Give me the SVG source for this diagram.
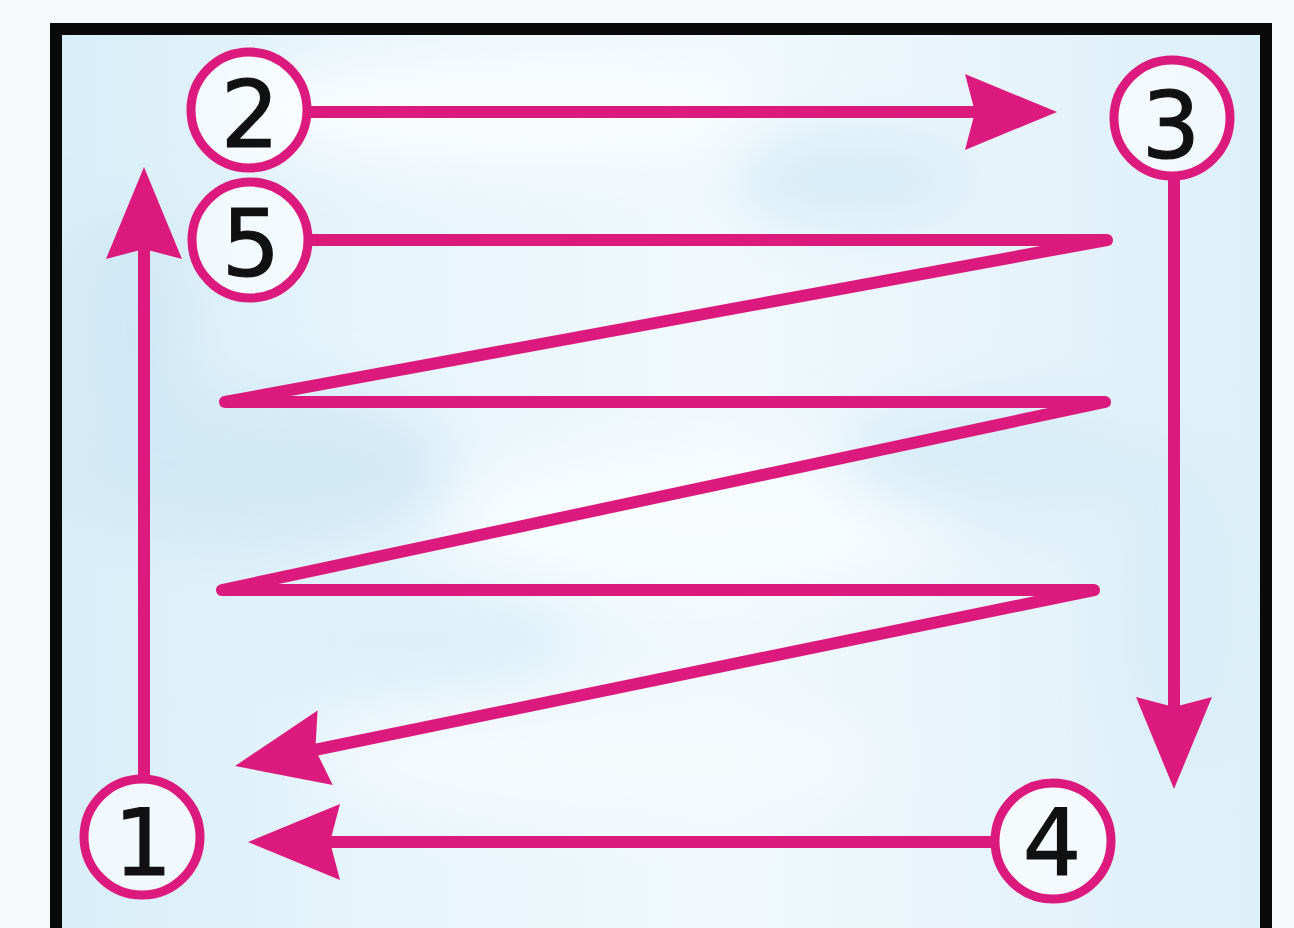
<svg xmlns="http://www.w3.org/2000/svg" xmlns:xlink="http://www.w3.org/1999/xlink" width="1294" height="928" viewBox="0 0 1294 928">
<style>
.ln{fill:none;stroke:#DC1A7E;stroke-width:12;stroke-linecap:round;stroke-linejoin:round}
.ring{fill:#ffffff;fill-opacity:0.6;stroke:#DC1A7E;stroke-width:9}
.num{font-family:"DejaVu Sans","Liberation Sans",sans-serif;font-size:92px;fill:#111111;stroke:#111111;stroke-width:1.2;text-anchor:middle}
.ah{fill:#DC1A7E}
</style>
<defs>
<path id="head" d="M0,0 L-92,-38 L-82,0 L-92,38 Z"/>
<linearGradient id="bg" x1="0" y1="0" x2="1" y2="0">
<stop offset="0" stop-color="#d8eef8"/>
<stop offset="0.25" stop-color="#e6f4fb"/>
<stop offset="0.55" stop-color="#f1f9fd"/>
<stop offset="0.8" stop-color="#e6f3fa"/>
<stop offset="1" stop-color="#dcf0f9"/>
</linearGradient>
<filter id="blur" x="-50%" y="-50%" width="200%" height="200%"><feGaussianBlur stdDeviation="30"/></filter>
<clipPath id="inner"><rect x="62" y="35" width="1198" height="900"/></clipPath>
</defs>
<rect x="0" y="0" width="1294" height="928" fill="#f7fafb"/>
<g id="background" clip-path="url(#inner)">
<rect x="62" y="35" width="1198" height="900" fill="url(#bg)"/>
<g filter="url(#blur)">
<ellipse cx="500" cy="110" rx="260" ry="60" fill="#f9fcfe"/>
<ellipse cx="850" cy="180" rx="120" ry="45" fill="#d6ecf7"/>
<ellipse cx="250" cy="470" rx="200" ry="80" fill="#d2e9f6"/>
<ellipse cx="700" cy="520" rx="260" ry="70" fill="#f8fcfe"/>
<ellipse cx="1000" cy="460" rx="160" ry="60" fill="#d8edf8"/>
<ellipse cx="600" cy="760" rx="280" ry="60" fill="#f5fafd"/>
<ellipse cx="130" cy="330" rx="60" ry="120" fill="#d0e8f5"/>
<ellipse cx="1180" cy="600" rx="60" ry="160" fill="#d8edf8"/>
<ellipse cx="400" cy="640" rx="180" ry="50" fill="#dcf0f9"/>
</g>
</g>
<rect id="frame" x="56" y="29" width="1210" height="920" fill="none" stroke="#0a0a0a" stroke-width="12"/>
<g id="connectors">
<line class="ln" x1="310" y1="112" x2="1000" y2="112"/>
<use xlink:href="#head" class="ah" transform="translate(1057,112)"/>
<line class="ln" x1="1174" y1="180" x2="1174" y2="730"/>
<use xlink:href="#head" class="ah" transform="translate(1174,789) rotate(90)"/>
<line class="ln" x1="991" y1="842" x2="300" y2="842"/>
<use xlink:href="#head" class="ah" transform="translate(248,842) rotate(180)"/>
<line class="ln" x1="144" y1="775" x2="144" y2="225"/>
<use xlink:href="#head" class="ah" transform="translate(144,167) rotate(-90)"/>
<polyline class="ln" points="312,240 1107,240 225,402 1105,402 222,590 1094,590 290,755"/>
<use xlink:href="#head" class="ah" transform="translate(235,766) rotate(168.5)"/>
</g>
<g id="n2"><circle class="ring" cx="249" cy="110" r="58"/><text class="num" x="250" y="147">2</text></g>
<g id="n5"><circle class="ring" cx="250" cy="240" r="58"/><text class="num" x="251" y="276">5</text></g>
<g id="n3"><circle class="ring" cx="1172" cy="118" r="58"/><text class="num" x="1171" y="158">3</text></g>
<g id="n1"><circle class="ring" cx="142" cy="837" r="58"/><text class="num" x="143" y="875">1</text></g>
<g id="n4"><circle class="ring" cx="1053" cy="841" r="58"/><text class="num" x="1052" y="875">4</text></g>
</svg>
